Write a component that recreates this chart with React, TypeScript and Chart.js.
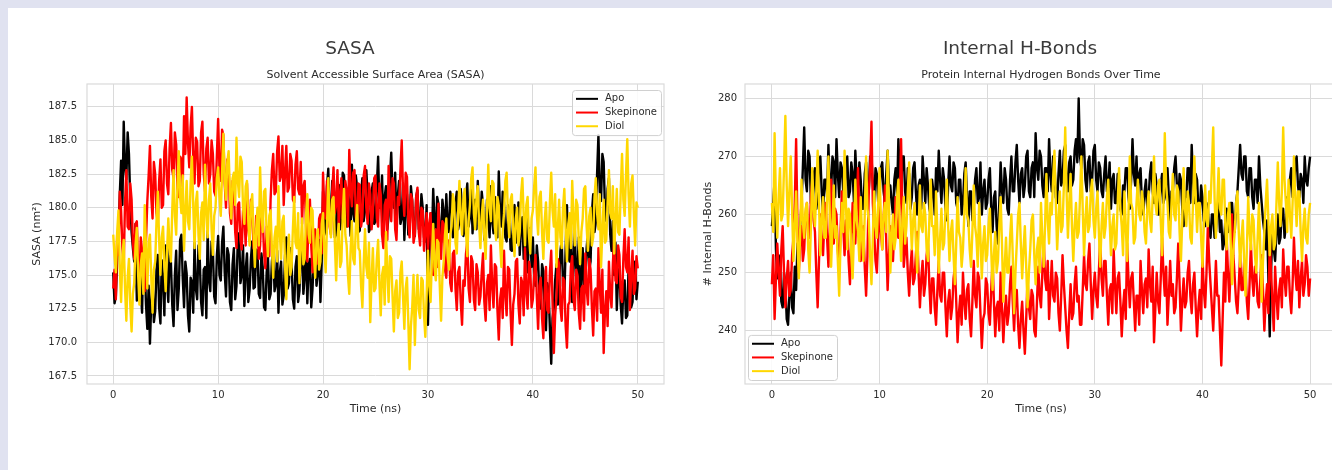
import React, { useEffect, useRef } from "react";
import { Chart, registerables } from "chart.js";

Chart.register(...registerables);

// ---------------- DATA ----------------
const TIME_STEP_NS = 0.125; // sampling interval of the series below (0 .. 50 ns)
const SERIES_NAMES = ["Apo", "Skepinone", "Diol"];
const SERIES_COLORS = ["#000000", "#ff0000", "#ffd700"];
const X_TICKS = [0, 10, 20, 30, 40, 50];
const SASA_Y_TICKS = [167.5, 170.0, 172.5, 175.0, 177.5, 180.0, 182.5, 185.0, 187.5];
const HB_Y_TICKS = [240, 250, 260, 270, 280];

const SASA_APO = [
  175.2, 172.9, 173.4, 176.0, 177.8, 181.0, 183.5, 180.2, 186.4, 183.0, 182.1, 185.6, 184.0, 180.5, 178.2, 177.0, 176.0, 178.8, 173.1, 175.6, 176.4, 174.0, 172.2, 176.9, 175.8, 172.8, 171.0, 174.2, 169.9, 173.0, 174.6, 171.5, 172.3, 175.4, 176.5, 172.6, 171.4, 176.1, 174.8, 172.0,
  177.2, 174.5, 173.0, 177.0, 175.9, 172.8, 171.2, 175.0, 176.8, 172.4, 174.0, 177.6, 178.0, 174.8, 172.6, 176.0, 175.1, 172.0, 170.8, 174.8, 174.5, 172.2, 177.4, 174.0, 173.2, 177.2, 176.1, 173.0, 172.0, 175.4, 175.6, 171.8, 178.3, 174.6, 173.8, 177.5, 176.9, 173.4, 172.9, 176.4,
  177.9, 175.0, 174.6, 177.4, 178.6, 175.2, 173.4, 177.0, 176.5, 173.0, 172.4, 175.8, 177.0, 173.2, 174.2, 177.6, 178.1, 174.4, 175.0, 177.2, 172.7, 175.4, 176.6, 173.0, 173.9, 176.2, 177.5, 174.0, 174.1, 176.9, 176.8, 173.6, 173.3, 176.6, 175.6, 172.6, 172.4, 175.2, 176.3, 173.2,
  173.6, 176.0, 177.1, 173.8, 174.3, 176.8, 172.2, 175.2, 176.0, 172.8, 173.5, 176.4, 177.8, 174.0, 174.4, 177.0, 175.9, 173.2, 172.5, 175.6, 176.4, 173.0, 173.8, 176.6, 177.0, 173.6, 174.9, 177.4, 172.9, 175.8, 176.2, 172.6, 174.0, 176.5, 177.3, 174.2, 175.1, 177.6, 173.0, 176.0,
  181.2, 178.0, 178.4, 181.6, 182.9, 179.0, 179.5, 182.0, 180.8, 177.8, 178.0, 181.0, 181.7, 178.4, 179.2, 182.6, 182.4, 179.4, 178.6, 181.4, 180.1, 177.9, 183.2, 179.6, 179.0, 182.4, 181.5, 178.2, 178.3, 181.0, 182.2, 179.0, 179.8, 182.8, 180.9, 178.2, 178.5, 181.2, 181.8, 178.8,
  179.0, 181.6, 183.8, 180.0, 180.2, 182.4, 178.1, 180.8, 181.6, 178.4, 179.4, 182.2, 184.1, 181.0, 180.0, 182.6, 178.4, 180.9, 182.0, 178.8, 179.2, 181.8, 177.6, 180.4, 181.0, 178.0, 178.6, 181.6, 180.5, 178.2, 177.9, 180.8, 181.3, 178.4, 178.8, 181.0, 180.0, 177.8, 177.5, 180.2,
  171.3, 176.5, 179.6, 177.6, 181.4, 179.0, 178.0, 180.8, 180.3, 178.2, 177.4, 180.6, 179.7, 177.8, 181.0, 178.6, 178.2, 181.2, 180.5, 177.8, 178.6, 180.4, 181.2, 178.4, 179.0, 181.4, 180.0, 177.9, 178.4, 180.8, 181.8, 178.6, 179.3, 181.5, 178.1, 180.2, 180.6, 178.4, 182.0, 179.2,
  178.8, 181.2, 180.2, 177.6, 177.9, 180.6, 179.4, 177.8, 181.6, 179.0, 178.1, 180.8, 179.8, 177.8, 182.7, 179.6, 178.6, 181.2, 180.4, 177.8, 177.5, 180.2, 179.5, 176.9, 176.8, 179.4, 180.2, 177.4, 178.0, 180.4, 176.5, 178.8, 179.3, 176.2, 177.3, 179.6, 175.2, 177.8, 178.5, 175.6,
  177.8, 175.0, 174.2, 177.2, 176.0, 173.4, 172.5, 175.8, 175.3, 172.2, 170.9, 174.4, 173.8, 171.0, 168.4, 171.8, 172.6, 174.6, 175.8, 172.8, 174.0, 176.8, 177.6, 174.2, 173.4, 177.0, 180.2, 176.4, 176.0, 178.6, 173.0, 176.2, 178.4, 174.6, 175.2, 177.8, 172.4, 175.0, 177.0, 173.6,
  174.6, 177.0, 178.2, 175.4, 176.0, 179.6, 181.0, 178.2, 178.9, 182.6, 185.4, 181.2, 180.5, 184.0, 183.4, 179.8, 179.0, 181.4, 182.2, 178.0, 176.8, 179.0, 175.0, 177.4, 172.4, 174.8, 175.5, 172.8, 171.4, 174.0, 174.6, 171.8, 172.0, 175.6, 175.2, 172.6, 173.0, 175.8, 176.0, 173.2,
  174.5,
];

const SASA_SKEPINONE = [
  174.0, 175.4, 173.2, 178.0, 176.5, 181.2, 179.8, 177.0, 175.8, 180.4, 182.8, 178.6, 178.4, 181.8, 180.6, 177.4, 176.2, 178.8, 179.0, 175.8, 174.6, 177.8, 176.8, 174.2, 173.8, 177.6, 180.5, 182.4, 184.6, 180.8, 179.2, 183.4, 182.5, 179.6, 178.8, 182.0, 183.6, 180.0, 180.2, 184.2,
  185.0, 181.8, 181.0, 184.4, 186.3, 182.8, 182.2, 185.6, 184.7, 181.4, 180.8, 183.8, 183.6, 181.6, 186.8, 184.0, 188.2, 184.8, 183.0, 186.0, 187.5, 183.6, 181.8, 185.2, 184.9, 181.6, 182.0, 185.6, 186.4, 182.6, 181.2, 184.4, 185.2, 181.8, 182.5, 185.0, 184.0, 181.2, 180.9, 183.8,
  186.6, 183.0, 182.0, 185.8, 185.4, 181.8, 180.0, 183.6, 183.2, 179.6, 178.8, 182.0, 181.5, 178.2, 177.0, 180.2, 180.4, 177.6, 176.9, 179.8, 179.6, 177.2, 181.8, 178.4, 177.5, 180.6, 180.0, 177.0, 176.8, 179.4, 178.8, 176.2, 177.2, 180.0, 179.4, 176.6, 175.5, 178.6, 178.0, 176.4,
  180.6, 182.8, 184.0, 181.0, 181.2, 184.2, 185.3, 182.0, 182.4, 184.6, 180.2, 182.6, 184.6, 181.2, 181.5, 184.0, 183.5, 180.6, 180.4, 183.2, 184.2, 181.4, 181.0, 183.4, 178.8, 181.6, 182.0, 178.6, 176.0, 179.4, 180.6, 177.2, 175.2, 178.0, 178.4, 175.8, 176.0, 179.2, 179.5, 176.6,
  182.6, 179.8, 179.2, 182.0, 181.4, 178.6, 178.0, 181.2, 183.0, 179.6, 180.2, 182.8, 178.5, 181.0, 182.2, 179.2, 179.0, 182.0, 181.2, 178.6, 184.3, 181.4, 180.1, 182.6, 182.8, 179.4, 178.4, 181.8, 181.7, 178.6, 179.3, 182.4, 183.1, 180.0, 178.8, 181.8, 181.0, 178.4, 179.6, 182.2,
  182.4, 179.2, 178.6, 181.8, 181.0, 178.0, 177.0, 180.2, 180.6, 177.6, 183.1, 180.4, 179.0, 182.2, 181.8, 178.4, 177.6, 180.8, 180.2, 182.8, 185.0, 181.0, 179.4, 182.6, 182.3, 179.0, 177.8, 181.0, 180.6, 177.4, 178.0, 180.8, 181.5, 178.2, 177.2, 180.0, 179.8, 176.8, 178.2, 179.6,
  176.8, 178.8, 179.6, 176.4, 175.0, 178.0, 178.4, 175.6, 180.3, 177.4, 176.2, 179.0, 178.8, 175.4, 174.8, 177.6, 177.2, 174.4, 173.8, 176.6, 176.8, 174.0, 172.4, 175.2, 175.6, 173.0, 171.3, 174.6, 174.2, 176.6, 177.5, 174.0, 173.0, 176.4, 176.0, 173.2, 172.4, 175.8, 175.2, 172.8,
  173.4, 175.2, 176.6, 173.0, 171.6, 174.4, 175.0, 172.4, 177.2, 174.2, 172.6, 175.8, 175.6, 172.4, 170.2, 173.2, 174.0, 171.8, 176.8, 173.6, 172.0, 175.6, 175.4, 172.2, 169.8, 172.8, 173.6, 176.0, 176.2, 172.8, 171.4, 174.8, 174.4, 172.0, 177.0, 173.8, 172.5, 176.0, 175.5, 172.6,
  173.2, 175.0, 176.5, 173.4, 171.0, 174.2, 174.8, 171.8, 170.3, 173.6, 175.6, 172.4, 172.2, 175.2, 176.8, 173.0, 169.2, 172.0, 173.4, 176.2, 175.8, 172.6, 171.6, 174.8, 174.6, 171.2, 169.6, 172.8, 173.0, 175.6, 176.4, 173.2, 172.4, 175.4, 175.0, 172.2, 171.0, 174.0, 174.2, 171.6,
  176.6, 174.0, 172.8, 176.2, 175.4, 172.6, 170.5, 173.8, 174.0, 171.6, 177.0, 174.2, 172.2, 175.4, 169.2, 172.4, 173.8, 171.2, 176.0, 173.6, 172.6, 175.8, 177.8, 174.6, 174.4, 177.2, 176.5, 173.4, 173.0, 176.2, 178.4, 175.6, 175.2, 177.8, 172.4, 175.0, 176.8, 173.6, 174.0, 176.4,
  175.5,
];

const SASA_DIOL = [
  178.0, 176.4, 175.2, 178.2, 179.8, 175.6, 173.0, 176.4, 177.6, 174.0, 171.6, 174.8, 176.2, 172.8, 170.8, 173.6, 174.4, 177.2, 178.5, 175.0, 172.8, 175.8, 176.6, 173.6, 180.2, 177.0, 174.0, 177.4, 178.0, 174.8, 172.2, 175.4, 176.0, 179.0, 181.2, 177.6, 175.0, 177.8, 178.6, 175.8,
  173.8, 176.6, 179.2, 177.0, 176.0, 179.8, 182.8, 179.4, 178.0, 181.6, 184.2, 180.8, 179.6, 182.4, 176.8, 179.6, 182.0, 179.0, 178.4, 181.8, 183.8, 180.2, 177.0, 180.4, 181.2, 178.0, 176.2, 179.6, 180.4, 177.6, 183.2, 179.8, 177.8, 180.6, 181.8, 178.4, 176.5, 179.4, 180.0, 182.2,
  183.0, 180.8, 179.4, 182.6, 185.5, 182.0, 180.6, 183.4, 184.2, 181.0, 179.2, 182.2, 182.6, 180.2, 185.2, 182.0, 180.8, 183.8, 183.4, 180.0, 178.8, 181.6, 182.0, 179.0, 177.2, 180.2, 181.0, 178.0, 175.6, 178.4, 180.0, 177.2, 183.0, 179.6, 178.2, 181.2, 181.4, 178.0, 176.4, 179.4,
  179.8, 177.0, 174.8, 177.8, 178.6, 176.0, 181.6, 178.2, 176.2, 179.0, 179.4, 175.8, 173.2, 176.4, 178.0, 175.0, 175.6, 178.4, 180.8, 177.4, 177.0, 179.6, 174.4, 177.2, 179.2, 175.8, 176.2, 179.4, 181.0, 178.0, 177.4, 180.0, 179.8, 176.6, 174.8, 177.6, 178.4, 175.4, 176.0, 178.8,
  179.6, 177.0, 175.2, 178.6, 182.2, 179.0, 177.8, 180.6, 180.8, 177.4, 174.6, 177.8, 178.8, 175.6, 176.0, 179.4, 181.4, 178.0, 177.2, 175.0, 173.6, 176.8, 179.0, 176.2, 175.8, 178.6, 180.2, 177.0, 176.8, 174.2, 172.6, 175.8, 178.4, 175.6, 174.8, 177.4, 171.5, 174.6, 177.0, 173.8,
  174.0, 176.2, 177.6, 174.4, 172.0, 175.0, 175.6, 172.8, 178.2, 175.4, 173.0, 176.4, 176.2, 173.4, 170.8, 173.8, 174.6, 171.8, 172.2, 175.2, 176.0, 173.4, 171.0, 174.0, 174.8, 171.6, 168.0, 171.2, 172.6, 175.0, 169.8, 173.0, 175.0, 172.4, 171.8, 174.8, 174.6, 172.0, 170.4, 173.6,
  176.8, 174.2, 173.0, 176.2, 178.8, 175.6, 174.6, 177.6, 177.4, 174.2, 171.6, 174.8, 176.0, 178.0, 179.2, 176.4, 175.4, 178.0, 178.6, 181.0, 180.4, 177.4, 176.6, 179.6, 182.0, 179.2, 178.0, 180.6, 181.4, 178.2, 176.4, 179.0, 180.2, 182.2, 183.0, 179.6, 178.4, 180.8, 181.6, 178.8,
  177.0, 179.4, 180.6, 177.8, 176.2, 179.8, 183.2, 180.0, 179.0, 182.0, 181.8, 178.6, 177.6, 180.8, 180.2, 177.4, 175.6, 178.2, 179.6, 182.0, 182.6, 179.4, 177.8, 180.6, 181.0, 178.2, 176.4, 179.2, 180.0, 177.2, 178.2, 181.0, 182.2, 179.4, 177.2, 180.2, 180.8, 178.0, 176.6, 179.2,
  179.8, 181.6, 183.0, 179.6, 178.0, 180.8, 181.2, 178.2, 176.2, 179.0, 180.4, 177.6, 177.4, 180.4, 182.6, 179.8, 178.6, 181.0, 175.6, 178.4, 180.6, 177.8, 177.0, 180.0, 181.4, 178.4, 176.0, 178.8, 179.6, 177.0, 182.0, 179.2, 177.2, 180.6, 180.2, 177.6, 175.8, 178.2, 179.2, 181.4,
  181.6, 178.6, 176.8, 179.4, 180.0, 177.2, 177.8, 180.8, 182.2, 179.6, 178.4, 181.0, 175.6, 178.2, 180.6, 177.4, 177.6, 180.4, 182.8, 179.6, 179.2, 181.6, 176.6, 179.0, 181.4, 178.2, 178.0, 181.2, 184.0, 180.6, 179.4, 182.4, 185.1, 181.0, 178.6, 181.8, 182.4, 179.6, 177.2, 180.4,
  180.0,
];

const HB_APO = [
  258, 262, 266, 254, 249, 253, 252, 245, 244, 250, 248, 242, 241, 246, 250, 244, 243, 251, 247, 255, 252, 258, 262, 268, 275, 266, 264, 271, 270, 262, 261, 267, 268, 261, 263, 269, 270, 264, 260, 266,
  266, 263, 272, 265, 264, 270, 269, 263, 273, 267, 263, 269, 268, 264, 262, 268, 270, 263, 264, 269, 267, 262, 271, 266, 263, 269, 266, 261, 261, 267, 269, 263, 264, 270, 270, 265, 262, 268, 267, 262,
  263, 268, 269, 264, 262, 267, 271, 265, 265, 262, 260, 266, 268, 263, 273, 267, 264, 270, 270, 264, 262, 268, 267, 261, 263, 268, 269, 264, 260, 265, 266, 261, 270, 266, 262, 268, 265, 261, 260, 266,
  264, 260, 268, 264, 271, 266, 262, 268, 266, 261, 259, 265, 270, 265, 264, 269, 268, 262, 261, 266, 266, 260, 262, 267, 269, 263, 258, 264, 264, 259, 261, 266, 268, 262, 263, 269, 260, 264, 266, 261,
  262, 266, 268, 261, 257, 263, 264, 258, 255, 262, 269, 264, 262, 268, 266, 261, 260, 266, 270, 264, 264, 269, 272, 266, 262, 267, 268, 263, 265, 270, 271, 264, 263, 268, 269, 263, 274, 268, 266, 271,
  270, 265, 263, 268, 268, 264, 273, 267, 264, 270, 269, 263, 262, 267, 271, 265, 266, 271, 272, 266, 264, 269, 270, 265, 266, 271, 273, 269, 280, 270, 268, 273, 272, 266, 264, 269, 270, 264, 266, 271,
  272, 266, 264, 269, 268, 264, 263, 267, 270, 264, 265, 269, 261, 266, 267, 262, 262, 267, 266, 261, 260, 265, 264, 268, 268, 263, 261, 266, 273, 267, 265, 270, 263, 267, 268, 262, 260, 264, 266, 261,
  263, 267, 269, 264, 262, 267, 265, 260, 260, 265, 267, 262, 263, 268, 268, 263, 259, 264, 264, 268, 270, 265, 262, 267, 266, 261, 258, 263, 263, 268, 268, 262, 272, 266, 262, 267, 266, 261, 260, 265,
  263, 259, 258, 262, 261, 257, 256, 260, 260, 256, 257, 261, 262, 257, 259, 254, 255, 259, 261, 257, 258, 262, 262, 258, 257, 262, 264, 268, 272, 267, 266, 270, 270, 264, 263, 268, 268, 263, 261, 266,
  266, 262, 270, 265, 262, 259, 257, 254, 259, 249, 239, 250, 258, 254, 252, 257, 260, 255, 256, 261, 261, 256, 258, 263, 262, 266, 268, 263, 264, 269, 270, 265, 263, 267, 266, 262, 270, 266, 265, 268,
  270,
];

const HB_SKEPINONE = [
  248, 253, 242, 249, 255, 250, 246, 254, 258, 250, 244, 249, 252, 246, 247, 253, 256, 262, 273, 258, 250, 256, 258, 252, 254, 260, 262, 256, 256, 263, 266, 259, 257, 250, 244, 252, 260, 255, 253, 259,
  262, 256, 251, 258, 266, 259, 255, 261, 260, 254, 250, 257, 264, 258, 253, 259, 259, 252, 248, 255, 262, 257, 255, 261, 268, 259, 252, 257, 258, 251, 246, 253, 264, 268, 276, 262, 257, 252, 250, 256,
  262, 257, 254, 259, 265, 255, 247, 253, 258, 253, 252, 258, 263, 257, 256, 262, 273, 259, 251, 254, 256, 250, 246, 251, 254, 248, 249, 253, 257, 250, 244, 249, 252, 246, 248, 253, 255, 248, 243, 249,
  249, 244, 241, 247, 252, 246, 245, 250, 250, 244, 239, 245, 247, 242, 244, 249, 251, 245, 238, 243, 246, 241, 250, 245, 242, 247, 248, 242, 239, 245, 252, 246, 244, 250, 249, 243, 237, 242, 243, 249,
  248, 243, 241, 247, 252, 245, 239, 244, 245, 240, 250, 244, 238, 243, 246, 241, 243, 248, 251, 245, 240, 246, 247, 241, 237, 242, 245, 240, 236, 242, 249, 244, 242, 247, 246, 240, 239, 245, 251, 246,
  244, 250, 256, 249, 247, 252, 242, 247, 252, 246, 245, 250, 249, 243, 240, 246, 253, 248, 244, 240, 237, 243, 248, 242, 243, 248, 251, 245, 246, 241, 241, 247, 253, 248, 247, 252, 255, 248, 242, 247,
  250, 246, 244, 250, 256, 249, 246, 252, 252, 246, 241, 247, 248, 243, 254, 248, 243, 249, 250, 245, 239, 244, 247, 242, 255, 249, 244, 249, 250, 245, 240, 246, 246, 241, 252, 247, 243, 248, 249, 244,
  254, 248, 245, 251, 238, 244, 250, 245, 243, 249, 256, 250, 246, 251, 241, 246, 252, 246, 248, 243, 244, 249, 255, 248, 240, 245, 249, 244, 245, 250, 252, 246, 243, 248, 250, 244, 239, 244, 247, 242,
  253, 247, 244, 250, 258, 252, 248, 244, 240, 246, 252, 246, 246, 240, 234, 242, 250, 245, 256, 250, 245, 251, 260, 253, 249, 245, 243, 248, 253, 247, 247, 252, 251, 245, 242, 248, 255, 249, 246, 251,
  250, 245, 244, 249, 253, 247, 240, 245, 248, 243, 256, 250, 245, 240, 251, 246, 242, 247, 249, 244, 254, 249, 246, 251, 251, 246, 243, 248, 256, 250, 247, 252, 244, 249, 252, 246, 248, 253, 251, 246,
  249,
];

const HB_DIOL = [
  262, 257, 274, 262, 256, 263, 268, 259, 260, 268, 277, 265, 258, 264, 270, 261, 252, 258, 264, 255, 249, 257, 266, 259, 256, 261, 262, 254, 250, 258, 268, 261, 258, 264, 271, 262, 253, 259, 263, 256,
  256, 263, 270, 260, 251, 258, 265, 256, 258, 252, 246, 255, 262, 257, 271, 262, 254, 261, 260, 253, 249, 257, 266, 259, 257, 252, 263, 256, 252, 260, 270, 261, 259, 253, 248, 256, 264, 258, 256, 262,
  268, 259, 254, 260, 262, 257, 271, 262, 250, 256, 260, 254, 256, 263, 266, 258, 252, 259, 263, 255, 258, 264, 269, 260, 254, 259, 262, 255, 250, 257, 265, 258, 257, 262, 260, 254, 252, 259, 266, 258,
  258, 253, 264, 257, 250, 256, 261, 254, 255, 261, 266, 258, 252, 257, 259, 253, 248, 255, 263, 257, 256, 251, 254, 260, 268, 260, 259, 254, 251, 257, 265, 258, 256, 251, 262, 256, 249, 255, 258, 252,
  253, 258, 261, 254, 247, 253, 257, 250, 252, 258, 263, 255, 245, 251, 256, 250, 250, 256, 260, 253, 243, 250, 255, 260, 262, 255, 249, 254, 258, 251, 244, 250, 254, 259, 260, 253, 248, 254, 256, 250,
  262, 256, 251, 258, 267, 259, 255, 262, 260, 266, 271, 262, 254, 259, 264, 257, 258, 265, 275, 264, 256, 262, 267, 258, 252, 258, 262, 256, 257, 263, 270, 261, 253, 259, 263, 257, 258, 264, 266, 259,
  256, 261, 264, 257, 251, 258, 262, 256, 258, 263, 266, 259, 253, 258, 260, 254, 255, 262, 268, 261, 258, 253, 264, 258, 252, 260, 270, 262, 261, 255, 256, 262, 266, 260, 259, 264, 262, 257, 255, 261,
  264, 259, 257, 263, 270, 262, 260, 265, 266, 259, 253, 261, 274, 265, 262, 257, 256, 262, 267, 260, 259, 265, 264, 257, 252, 259, 268, 261, 258, 264, 262, 256, 255, 262, 270, 263, 257, 262, 262, 256,
  251, 258, 265, 259, 258, 264, 262, 268, 275, 263, 256, 262, 268, 261, 260, 266, 266, 258, 254, 260, 262, 255, 248, 254, 257, 262, 264, 257, 251, 256, 259, 252, 246, 254, 263, 257, 254, 260, 259, 253,
  250, 256, 262, 254, 245, 252, 257, 262, 266, 259, 253, 258, 260, 254, 255, 262, 269, 262, 258, 264, 275, 266, 262, 257, 266, 260, 256, 262, 270, 263, 258, 264, 264, 257, 252, 258, 261, 256, 255, 260,
  262,
];

// ---------------- CHART HELPERS ----------------
const FONT = "'DejaVu Sans', sans-serif";
const TEXT_COLOR = "#2b2b2b";
const GRID_COLOR = "#dadada";

const decorPlugin = {
  id: "decor",
  afterDatasetsDraw(chart: any, _args: any, opts: any) {
    const { ctx, chartArea: ca } = chart;
    ctx.save();
    // axes frame (all four spines)
    ctx.strokeStyle = GRID_COLOR;
    ctx.lineWidth = 1.2;
    ctx.strokeRect(ca.left, ca.top, ca.right - ca.left, ca.bottom - ca.top);
    // subtitle centred over the plot area
    ctx.font = `11px ${FONT}`;
    ctx.fillStyle = TEXT_COLOR;
    ctx.textAlign = "center";
    ctx.textBaseline = "middle";
    ctx.fillText(opts.subtitle, (ca.left + ca.right) / 2, ca.top - 9);
    // legend box
    ctx.font = `10px ${FONT}`;
    const items = chart.data.datasets.map((d: any) => ({ label: d.label, color: d.borderColor }));
    const textW = Math.max(...items.map((i: any) => ctx.measureText(i.label).width));
    const padX = 4, lineLen = 22, gap = 7, rowH = 13.7, padY = 2;
    const w = padX + lineLen + gap + textW + padX;
    const h = padY * 2 + rowH * items.length;
    let x: number, y: number;
    if (opts.legendCorner === "tr") {
      x = ca.right - 3 - w;
      y = ca.top + 6;
    } else {
      x = ca.left + 3;
      y = ca.bottom - 4 - h;
    }
    ctx.beginPath();
    ctx.roundRect(x + 0.5, y + 0.5, w, h, 3);
    ctx.fillStyle = "rgba(255,255,255,0.85)";
    ctx.fill();
    ctx.strokeStyle = "#d0d0d0";
    ctx.lineWidth = 1;
    ctx.stroke();
    items.forEach((it: any, i: number) => {
      const cy = y + padY + rowH * (i + 0.5);
      ctx.beginPath();
      ctx.strokeStyle = it.color;
      ctx.lineWidth = 2;
      ctx.moveTo(x + padX, cy);
      ctx.lineTo(x + padX + lineLen, cy);
      ctx.stroke();
      ctx.fillStyle = TEXT_COLOR;
      ctx.textAlign = "left";
      ctx.textBaseline = "middle";
      ctx.fillText(it.label, x + padX + lineLen + gap, cy);
    });
    ctx.restore();
  },
};

type PanelProps = {
  width: number;
  height: number;
  series: number[][];
  yMin: number;
  yMax: number;
  yTicks: number[];
  yDecimals: number;
  yTitle: string;
  subtitle: string;
  legendCorner: "tr" | "bl";
  padding: { left: number; right: number; top: number; bottom: number };
  yAxisWidth: number;
  yTickPad: number;
};

function LinePanel(p: PanelProps) {
  const ref = useRef<HTMLCanvasElement | null>(null);
  useEffect(() => {
    if (!ref.current) return;
    const drawOrder = [2, 1, 0]; // Apo at the back, Diol on top
    const datasets = p.series.map((vals, si) => ({
      label: SERIES_NAMES[si],
      data: vals.map((v, i) => ({ x: i * TIME_STEP_NS, y: v })),
      borderColor: SERIES_COLORS[si],
      backgroundColor: SERIES_COLORS[si],
      borderWidth: 2.4,
      borderJoinStyle: "round",
      pointRadius: 0,
      tension: 0,
      fill: false,
      order: drawOrder[si],
    }));
    const chart = new Chart(ref.current, {
      type: "line",
      data: { datasets },
      plugins: [decorPlugin],
      options: {
        animation: false,
        responsive: false,
        events: [],
        layout: { padding: p.padding },
        plugins: {
          legend: { display: false },
          tooltip: { enabled: false },
          decor: { subtitle: p.subtitle, legendCorner: p.legendCorner },
        } as any,
        scales: {
          x: {
            type: "linear",
            min: -2.5,
            max: 52.5,
            afterBuildTicks: (s: any) => {
              s.ticks = X_TICKS.map((v) => ({ value: v }));
            },
            afterFit: (s: any) => {
              s.height = 32;
            },
            grid: { color: GRID_COLOR, lineWidth: 1, drawTicks: false },
            border: { display: false },
            ticks: {
              padding: 5,
              color: TEXT_COLOR,
              font: { family: FONT, size: 10 },
              maxRotation: 0,
              callback: (v: any) => String(v),
            },
            title: {
              display: true,
              text: "Time (ns)",
              color: TEXT_COLOR,
              font: { family: FONT, size: 11 },
              padding: 0,
            },
          },
          y: {
            type: "linear",
            min: p.yMin,
            max: p.yMax,
            afterBuildTicks: (s: any) => {
              s.ticks = p.yTicks.map((v) => ({ value: v }));
            },
            afterFit: (s: any) => {
              s.width = p.yAxisWidth;
            },
            grid: { color: GRID_COLOR, lineWidth: 1, drawTicks: false },
            border: { display: false },
            ticks: {
              padding: p.yTickPad,
              color: TEXT_COLOR,
              font: { family: FONT, size: 10 },
              callback: (v: any) => Number(v).toFixed(p.yDecimals),
            },
            title: {
              display: true,
              text: p.yTitle,
              color: TEXT_COLOR,
              font: { family: FONT, size: 11 },
              padding: 0,
            },
          },
        },
      } as any,
    });
    return () => chart.destroy();
  }, []);
  return <canvas ref={ref} width={p.width} height={p.height} style={{ display: "block" }} />;
}

const titleStyle: React.CSSProperties = {
  position: "absolute",
  top: 37,
  width: 400,
  textAlign: "center",
  fontFamily: FONT,
  fontSize: 18.5,
  lineHeight: "22px",
  color: "#3a3a3a",
};

export default function App() {
  return (
    <div
      style={{
        position: "absolute",
        left: 0,
        top: 0,
        width: 1332,
        height: 470,
        overflow: "hidden",
        background: "#e0e2f0",
      }}
    >
      <div style={{ position: "absolute", left: 8, top: 8, right: 0, bottom: 0, background: "#ffffff" }} />
      <div style={{ position: "absolute", left: 0, top: 0 }}>
        <LinePanel
          width={690}
          height={470}
          series={[SASA_APO, SASA_SKEPINONE, SASA_DIOL]}
          yMin={166.9}
          yMax={189.2}
          yTicks={SASA_Y_TICKS}
          yDecimals={1}
          yTitle="SASA (nm²)"
          subtitle="Solvent Accessible Surface Area (SASA)"
          legendCorner="tr"
          padding={{ left: 31, right: 26, top: 84, bottom: 54 }}
          yAxisWidth={56}
          yTickPad={10}
        />
      </div>
      <div style={{ position: "absolute", left: 700, top: 0 }}>
        <LinePanel
          width={660}
          height={470}
          series={[HB_APO, HB_SKEPINONE, HB_DIOL]}
          yMin={230.8}
          yMax={282.5}
          yTicks={HB_Y_TICKS}
          yDecimals={0}
          yTitle="# Internal H-Bonds"
          subtitle="Protein Internal Hydrogen Bonds Over Time"
          legendCorner="bl"
          padding={{ left: 2, right: 23, top: 84, bottom: 54 }}
          yAxisWidth={43}
          yTickPad={8}
        />
      </div>
      <div style={{ ...titleStyle, left: 150 }}>SASA</div>
      <div style={{ ...titleStyle, left: 820 }}>Internal H-Bonds</div>
    </div>
  );
}
